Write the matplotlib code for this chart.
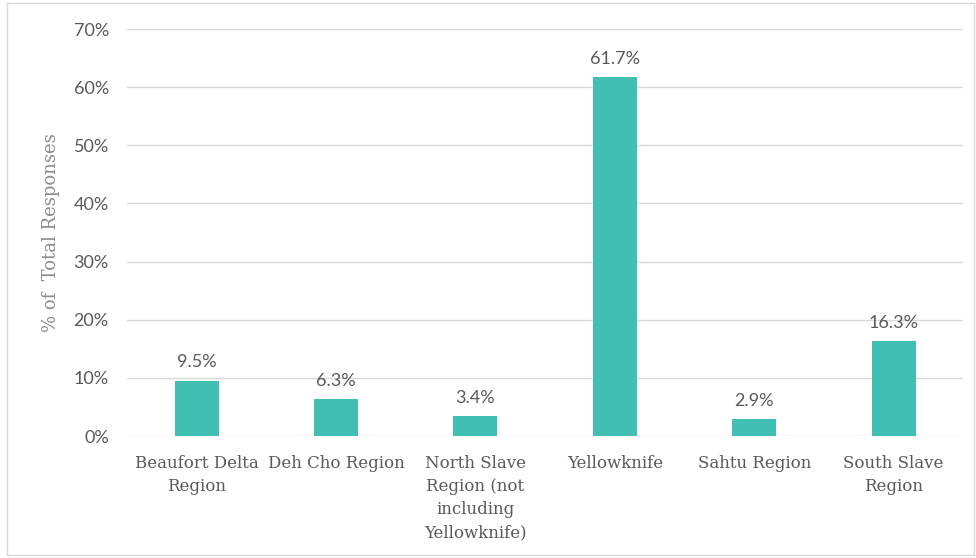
import matplotlib
matplotlib.use("Agg")
import matplotlib.pyplot as plt
from matplotlib.patches import Rectangle
from matplotlib.ticker import FuncFormatter

categories = ["Beaufort Delta\nRegion", "Deh Cho Region", "North Slave\nRegion (not\nincluding\nYellowknife)",
              "Yellowknife", "Sahtu Region", "South Slave\nRegion"]
values = [9.5, 6.3, 3.4, 61.7, 2.9, 16.3]
labels = ["9.5%", "6.3%", "3.4%", "61.7%", "2.9%", "16.3%"]
yticks = [0, 10, 20, 30, 40, 50, 60, 70]

fig = plt.figure(figsize=(9.76, 5.58), dpi=100)
ax = fig.add_axes([0.130, 0.2186, 0.857, 0.7294])

x = list(range(len(categories)))
ax.bar(x, values, width=0.315, color="#40bfb2", zorder=3)
for xi, v, lab in zip(x, values, labels):
    ax.text(xi, v + 1.8, lab, ha="center", va="bottom", fontsize=13,
            family="Lato", color="#595959")

ax.set_xlim(-0.5, len(categories) - 0.5)
ax.set_ylim(0, 70)
ax.set_yticks(yticks)
ax.yaxis.set_major_formatter(FuncFormatter(lambda v, p: f"{v:.0f}%"))
ax.grid(axis="y", color="#d9d9d9", linewidth=1, zorder=0)
for s in ax.spines.values():
    s.set_visible(False)
ax.tick_params(axis="both", length=0)
ax.tick_params(axis="y", pad=13, labelsize=13, labelcolor="#595959")
for t in ax.get_yticklabels():
    t.set_family("Lato")
ax.set_xticks(x)
ax.set_xticklabels(categories, family="DejaVu Serif", fontsize=12, color="#595959",
                   linespacing=1.45, va="top")
ax.tick_params(axis="x", pad=14)
ax.set_ylabel("% of  Total Responses", family="DejaVu Serif", fontsize=13,
              color="#8c8c8c", labelpad=10)

fig.patches.append(Rectangle((0.007, 0.005), 0.991, 0.99, transform=fig.transFigure,
                             fill=False, edgecolor="#d9d9d9", linewidth=1))
fig.savefig("out.png", dpi=100)
